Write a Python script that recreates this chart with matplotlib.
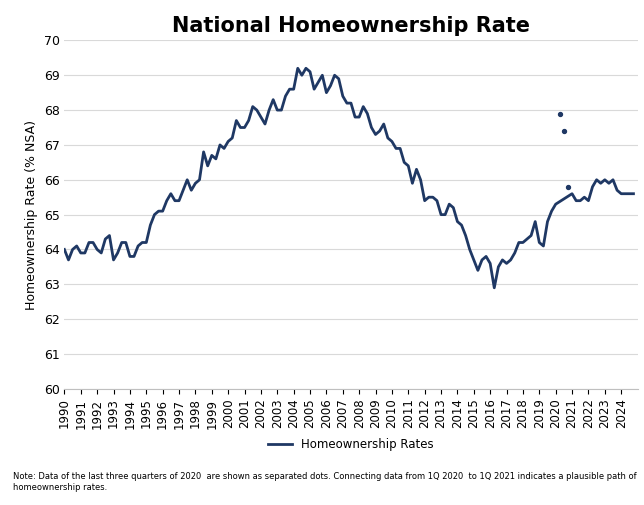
"""
Tasa nacional de propiedad de vivienda, datos trimestrales 1990-2024.
"""
import numpy as np
import matplotlib.pyplot as plt # Dibujo de las gráficas 

rates = [
    64.0, 63.7, 64.0, 64.1,  # 1990
    63.9, 63.9, 64.2, 64.2,
    64.0, 63.9, 64.3, 64.4,
    63.7, 63.9, 64.2, 64.2,
    63.8, 63.8, 64.1, 64.2,
    64.2, 64.7, 65.0, 65.1,  # 1995
    65.1, 65.4, 65.6, 65.4,
    65.4, 65.7, 66.0, 65.7,
    65.9, 66.0, 66.8, 66.4,
    66.7, 66.6, 67.0, 66.9,
    67.1, 67.2, 67.7, 67.5,  # 2000
    67.5, 67.7, 68.1, 68.0,
    67.8, 67.6, 68.0, 68.3,
    68.0, 68.0, 68.4, 68.6,
    68.6, 69.2, 69.0, 69.2,
    69.1, 68.6, 68.8, 69.0,  # 2005
    68.5, 68.7, 69.0, 68.9,
    68.4, 68.2, 68.2, 67.8,
    67.8, 68.1, 67.9, 67.5,
    67.3, 67.4, 67.6, 67.2,
    67.1, 66.9, 66.9, 66.5,  # 2010
    66.4, 65.9, 66.3, 66.0,
    65.4, 65.5, 65.5, 65.4,
    65.0, 65.0, 65.3, 65.2,
    64.8, 64.7, 64.4, 64.0,
    63.7, 63.4, 63.7, 63.8,  # 2015
    63.6, 62.9, 63.5, 63.7,
    63.6, 63.7, 63.9, 64.2,
    64.2, 64.3, 64.4, 64.8,
    64.2, 64.1, 64.8, 65.1,
    65.3, None, None, None,  # 2020
    65.6, 65.4, 65.4, 65.5,
    65.4, 65.8, 66.0, 65.9,
    66.0, 65.9, 66.0, 65.7,
    65.6, 65.6, 65.6, 65.6,  # 2024
]
dots_2020 = [67.9, 67.4, 65.8]  # 2T, 3T y 4T de 2020

X = [1990 + i / 4 for i in range(len(rates))]
X_line = [x for x, r in zip(X, rates) if r is not None]
l_line = [r for r in rates if r is not None]
X_dots = [2020.25, 2020.5, 2020.75]

color = '#1F3864'
plt.figure(figsize=(6.44, 5.05), dpi=100)
plt.plot(X_line, l_line, color=color, linewidth=2, label='Homeownership Rates')
plt.scatter(X_dots, dots_2020, color=color, s=8, zorder=3)

plt.title('National Homeownership Rate', fontsize=15, fontweight='bold')
plt.ylabel('Homeownership Rate (% NSA)', fontsize=9)
plt.ylim(60, 70)
plt.yticks(np.arange(60, 71, 1), fontsize=9)
plt.xlim(1990, 2025)
plt.xticks(range(1990, 2025), [str(y) for y in range(1990, 2025)], rotation=90, fontsize=8.5)
plt.grid(axis='y', color='#d9d9d9', linewidth=0.8)
ax = plt.gca()
for side in ['top', 'right', 'left']:
    ax.spines[side].set_visible(False)
ax.spines['bottom'].set_color('#bfbfbf')
ax.tick_params(axis='y', length=0)
plt.legend(loc='upper center', bbox_to_anchor=(0.5, -0.11), frameon=False, fontsize=8.5)
plt.figtext(0.02, 0.03, 'Note: Data of the last three quarters of 2020  are shown as separated dots. Connecting data from 1Q 2020  to 1Q 2021 indicates a plausible path of\nhomeownership rates.', fontsize=6, ha='left')
plt.subplots_adjust(left=0.1, right=0.99, top=0.92, bottom=0.23)
plt.savefig('out.png')
